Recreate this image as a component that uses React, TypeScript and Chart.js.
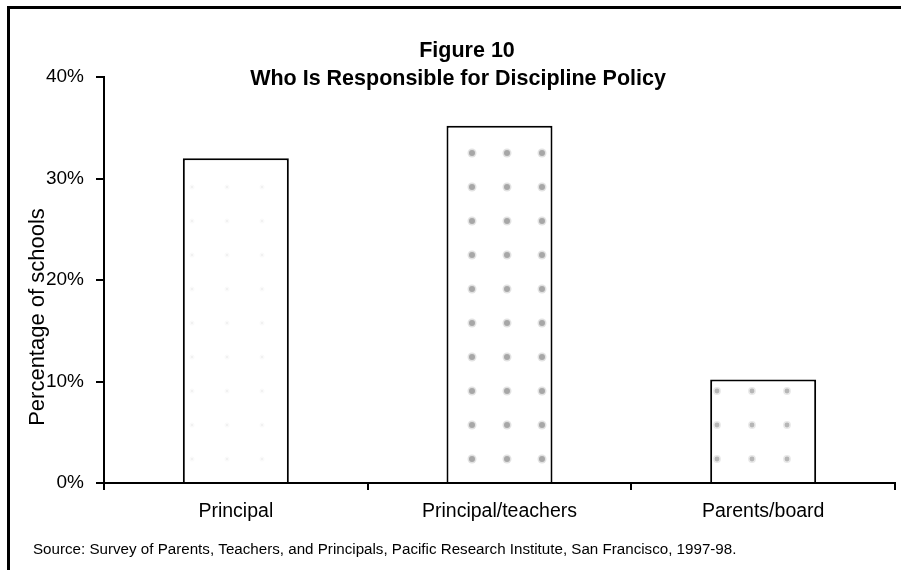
import React, { useEffect, useRef } from "react";
import { Chart, registerables } from "chart.js";

Chart.register(...registerables);

const categories = ["Principal", "Principal/teachers", "Parents/board"];
const percentages = [32.0, 35.2, 10.2];
const yMin = 0;
const yMax = 40;
const yStep = 10;
const titleLines = ["Figure 10", "Who Is Responsible for Discipline Policy"];
const yTitle = "Percentage of schools";
const sourceNote =
  "Source: Survey of Parents, Teachers, and Principals, Pacific Research Institute, San Francisco, 1997-98.";

const FONT = '"Liberation Sans", Arial, Helvetica, sans-serif';

function makePattern(alpha: number, radius: number): CanvasPattern | string {
  const c = document.createElement("canvas");
  c.width = 35;
  c.height = 34;
  const g = c.getContext("2d");
  if (!g) return "#fff";
  g.fillStyle = "#fff";
  g.fillRect(0, 0, 35, 34);
  g.fillStyle = `rgba(100,100,100,${alpha})`;
  g.beginPath();
  g.arc(17, 17, radius, 0, Math.PI * 2);
  g.fill();
  g.fillStyle = `rgba(140,140,140,${alpha * 0.5})`;
  g.beginPath();
  g.arc(17, 17, radius + 1.5, 0, Math.PI * 2);
  g.fill();
  const p = g.createPattern(c, "repeat");
  return p || "#fff";
}

const textPlugin = {
  id: "staticTexts",
  afterDraw(chart: any) {
    const ctx = chart.ctx as CanvasRenderingContext2D;
    ctx.save();
    ctx.fillStyle = "#000";
    ctx.textBaseline = "middle";
    ctx.textAlign = "center";
    ctx.font = `bold 21.5px ${FONT}`;
    ctx.fillText(titleLines[0], 467, 51);
    ctx.fillText(titleLines[1], 458, 79);

    ctx.save();
    ctx.translate(38, 317);
    ctx.rotate(-Math.PI / 2);
    ctx.font = `22px ${FONT}`;
    ctx.fillText(yTitle, 0, 0);
    ctx.restore();

    ctx.textAlign = "left";
    ctx.font = `14px ${FONT}`;
    const w = ctx.measureText(sourceNote).width;
    const size = (14 * 704) / w;
    ctx.font = `${size.toFixed(2)}px ${FONT}`;
    ctx.fillText(sourceNote, 33, 550);
    ctx.restore();
  },
};

export default function App() {
  const ref = useRef<HTMLCanvasElement | null>(null);

  useEffect(() => {
    document.body.style.margin = "0";
    const canvas = ref.current;
    if (!canvas) return;
    const fills = [makePattern(0.08, 1.0), makePattern(0.5, 3), makePattern(0.4, 2.4)];
    const chart = new Chart(canvas, {
      type: "bar",
      data: {
        labels: categories,
        datasets: [
          {
            data: percentages,
            backgroundColor: fills as any,
            borderColor: "#000",
            borderWidth: 2,
            categoryPercentage: 1,
            barPercentage: 0.402,
          },
        ],
      },
      options: {
        animation: false,
        responsive: false,
        maintainAspectRatio: false,
        devicePixelRatio: 1,
        layout: { padding: { top: 77, right: 6, left: 0, bottom: 0 } },
        plugins: {
          legend: { display: false },
          title: { display: false },
          tooltip: { enabled: false },
        },
        scales: {
          x: {
            offset: true,
            border: { display: true, color: "#000", width: 2 },
            grid: {
              offset: true,
              drawOnChartArea: false,
              drawTicks: true,
              tickLength: 7,
              color: "#000",
              lineWidth: 2,
            },
            ticks: {
              color: "#000",
              font: { family: FONT, size: 19.5 },
              padding: 10,
              maxRotation: 0,
              autoSkip: false,
            },
            afterFit: (s: any) => {
              s.height = 87;
            },
          },
          y: {
            min: yMin,
            max: yMax,
            border: { display: true, color: "#000", width: 2 },
            grid: {
              drawOnChartArea: false,
              drawTicks: true,
              tickLength: 8,
              color: "#000",
              lineWidth: 2,
            },
            ticks: {
              stepSize: yStep,
              color: "#000",
              font: { family: FONT, size: 19 },
              padding: 12,
              callback: (v: any) => `${v}%`,
            },
            afterFit: (s: any) => {
              s.width = 104;
            },
          },
        },
      },
      plugins: [textPlugin],
    });
    return () => chart.destroy();
  }, []);

  return (
    <div style={{ position: "relative", width: 901, height: 570, background: "#fff" }}>
      <canvas ref={ref} width={901} height={570} style={{ display: "block" }} />
      <div
        style={{
          position: "absolute",
          left: 7,
          top: 6,
          right: 0,
          bottom: 0,
          borderTop: "3px solid #000",
          borderLeft: "3px solid #000",
          pointerEvents: "none",
        }}
      />
    </div>
  );
}
